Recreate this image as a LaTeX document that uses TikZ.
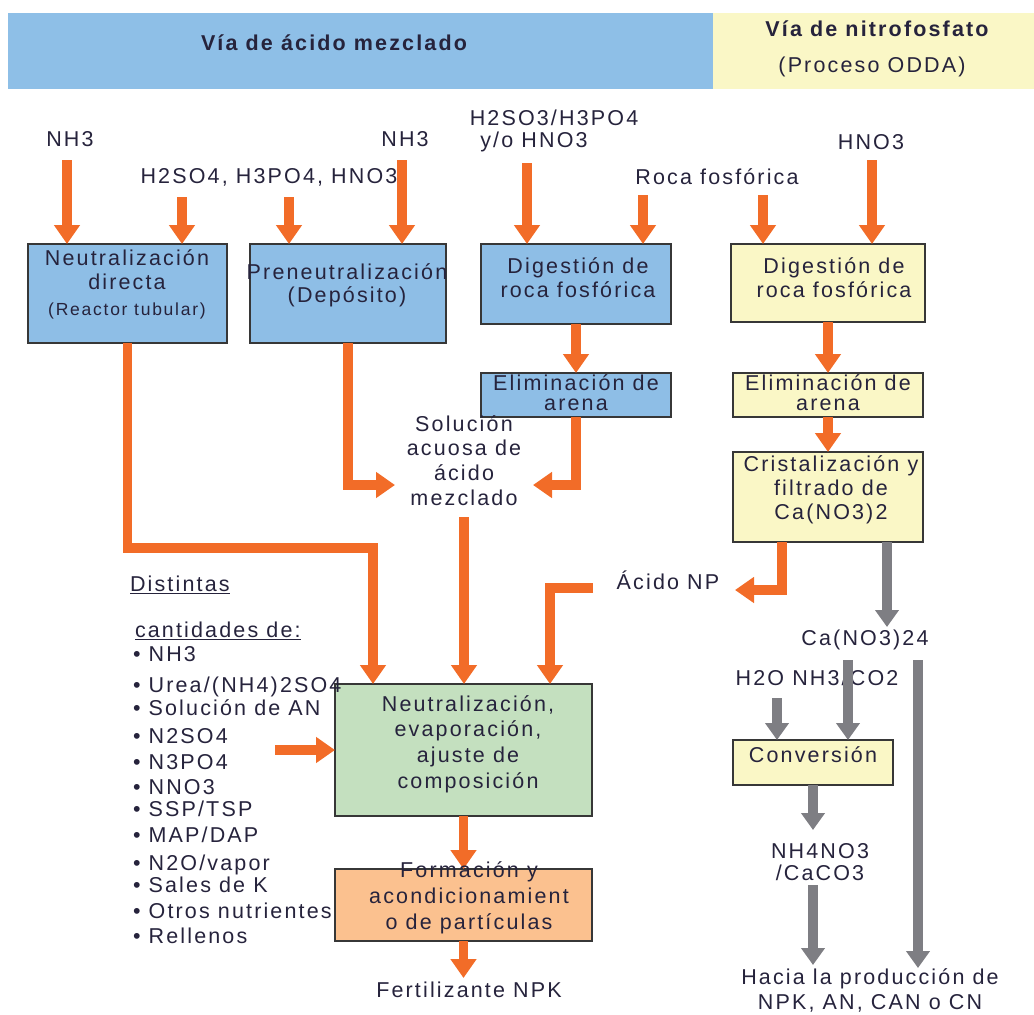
\documentclass[tikz,border=0pt]{standalone}
\usepackage{fontspec}
\setmainfont{Liberation Sans}[LetterSpace=10]
\usetikzlibrary{arrows.meta}

\definecolor{hdrblue}{RGB}{142,191,231}
\definecolor{boxblue}{RGB}{142,190,230}
\definecolor{boxyellow}{RGB}{250,247,198}
\definecolor{boxgreen}{RGB}{196,224,191}
\definecolor{boxorange}{RGB}{251,193,143}
\definecolor{flow}{RGB}{242,108,40}
\definecolor{flowgray}{RGB}{126,126,131}
\definecolor{ink}{RGB}{38,35,60}
\definecolor{edge}{RGB}{55,55,55}

\begin{document}
\begin{tikzpicture}[x=1pt,y=-1pt,
  every node/.style={inner sep=0pt, outer sep=0pt, text=ink},
  box/.style={draw=edge, line width=1.8pt},
  txt/.style={font=\fontsize{21.5}{#1}\selectfont, align=center},
  txt/.default=24,
  one/.style={font=\fontsize{21.5}{25}\selectfont, text height=15.5pt, text depth=4.5pt},
  small/.style={font=\fontsize{17.5}{21}\selectfont, text height=15.5pt, text depth=4.5pt},
  bold/.style={font=\fontsize{21.5}{25}\bfseries\selectfont, text height=15.5pt, text depth=4.5pt},
  oarr/.style={draw=flow, line width=9.5pt, line join=miter,
               -{Triangle[width=25pt,length=19pt]}},
  garr/.style={draw=flowgray, line width=10pt, line join=miter,
               -{Triangle[width=23pt,length=17pt]}}]

\useasboundingbox (0,0) rectangle (1034,1015);

% header bands
\fill[hdrblue] (8,13) rectangle (713,89);
\fill[boxyellow] (713,13) rectangle (1034,89);
\node[bold] (h1) at (334,45) {Vía de ácido mezclado};
\node[bold] (h2) at (877,31) {Vía de nitrofosfato};
\node[one] (h3) at (872,67) {(Proceso ODDA)};

% process boxes
\node[box, fill=boxblue, minimum width=199pt, minimum height=99pt] (b1) at (127.5,293.5) {};
\node[box, fill=boxblue, minimum width=196pt, minimum height=99pt] (b2) at (348,293.5) {};
\node[box, fill=boxblue, minimum width=190pt, minimum height=80pt] (b3) at (576,284) {};
\node[box, fill=boxyellow, minimum width=194pt, minimum height=78pt] (b4) at (828,283) {};
\node[box, fill=boxblue, minimum width=190pt, minimum height=44pt] (b5) at (576,395) {};
\node[box, fill=boxyellow, minimum width=190pt, minimum height=44pt] (b6) at (828,395) {};
\node[box, fill=boxyellow, minimum width=190pt, minimum height=90pt] (b7) at (828,497) {};
\node[box, fill=boxgreen, minimum width=257pt, minimum height=132pt] (b8) at (463.5,750) {};
\node[box, fill=boxorange, minimum width=257pt, minimum height=72pt] (b9) at (463.5,905) {};
\node[box, fill=boxyellow, minimum width=160pt, minimum height=45pt] (b10) at (813,762.5) {};

% free ends of the flows
\coordinate (s1) at (67,160);
\coordinate (s2) at (182,197);
\coordinate (s3) at (289,197);
\coordinate (s4) at (402,160);
\coordinate (s5) at (527,163);
\coordinate (s6) at (643,195);
\coordinate (s7) at (763,195);
\coordinate (s8) at (872,160);
\coordinate (solR) at (533,485);
\coordinate (solL) at (395,485);
\coordinate (k14) at (373,548);
\coordinate (s15) at (464,517);
\coordinate (npR) at (735,590);
\coordinate (s17) at (593,588);
\coordinate (k17) at (550,588);
\coordinate (s18) at (275,750);
\coordinate (fertTop) at (463.5,978);

% orange flows (mixed acid route)
\draw[oarr] (s1) -- (s1 |- b1.north);
\draw[oarr] (s2) -- (s2 |- b1.north);
\draw[oarr] (s3) -- (s3 |- b2.north);
\draw[oarr] (s4) -- (s4 |- b2.north);
\draw[oarr] (s5) -- (s5 |- b3.north);
\draw[oarr] (s6) -- (s6 |- b3.north);
\draw[oarr] (s7) -- (s7 |- b4.north);
\draw[oarr] (s8) -- (s8 |- b4.north);
\draw[oarr] (b3.south) -- (b5.north);
\draw[oarr] (b4.south) -- (b6.north);
\draw[oarr] (b6.south) -- (b7.north);
\draw[oarr] (b5.south) |- (solR);
\draw[oarr] (b2.south) |- (solL);
\draw[oarr] (b1.south) |- (k14) -- (k14 |- b8.north);
\draw[oarr] (s15) -- (s15 |- b8.north);
\draw[oarr] ([xshift=-46pt]b7.south) |- (npR);
\draw[oarr] (s17) -- (k17) -- (k17 |- b8.north);
\draw[oarr] (s18) -- (s18 -| b8.west);
\draw[oarr] (b8.south) -- (b9.north);
\draw[oarr] (b9.south) -- (fertTop);

% inputs
\node[one] (nh3a) at (70,141) {NH3};
\node[one] (acids) at (269,178) {H2SO4, H3PO4, HNO3};
\node[one] (nh3b) at (405,141) {NH3};
\node[one] (acid3a) at (554,120) {H2SO3/H3PO4};
\node[one] (acid3b) at (534,142) {y/o HNO3};
\node[one] (roca) at (717,179) {Roca fosfórica};
\node[one] (hno3) at (871,144) {HNO3};

% box texts
\node[txt] (t1) at (127,270) {Neutralización\\directa};
\node[small] (t1b) at (127,310) {(Reactor tubular)};
\node[txt=23] (t2) at (347,285.5) {Preneutralización\\(Depósito)};
\node[txt] (t3) at (578,278) {Digestión de\\roca fosfórica};
\node[txt] (t4) at (834,278) {Digestión de\\roca fosfórica};
\node[txt=20] (t5) at (576,393) {Eliminación de\\arena};
\node[txt=20] (t6) at (828,393) {Eliminación de\\arena};
\node[txt] (t7) at (831,490) {Cristalización y\\filtrado de\\Ca(NO3)2};
\node[txt=25.7] (t8) at (468,744) {Neutralización,\\evaporación,\\ajuste de\\composición};
\node[txt=26] (t9) at (469,898) {Formación y\\acondicionamient\\o de partículas};
\node[one] (t10) at (813,757) {Conversión};

% intermediate and final products
\node[txt=24.7] (sol) at (464,460.5) {Solución\\acuosa de\\ácido\\mezclado};
\node[one] (acnp) at (668,584) {Ácido NP};
\node[one] (cano) at (865,640) {Ca(NO3)24};
\node[one] (h2o) at (817,680) {H2O NH3/CO2};
\node[txt=22] (nh4) at (820,862) {NH4NO3\\/CaCO3};
\node[txt=25] (hacia) at (870,990.5) {Hacia la producción de\\NPK, AN, CAN o CN};
\node[one] (fert) at (469,992) {Fertilizante NPK};

% list of additives
\node[one, anchor=west] (dist) at (130,586) {\underline{Distintas}};
\node[one, anchor=west] (cant) at (135,632) {\underline{cantidades de:}};
\node[one, anchor=west] (l1) at (133,656) {• NH3};
\node[one, anchor=west] (l2) at (133,687) {• Urea/(NH4)2SO4};
\node[one, anchor=west] (l3) at (133,710) {• Solución de AN};
\node[one, anchor=west] (l4) at (133,738) {• N2SO4};
\node[one, anchor=west] (l5) at (133,764) {• N3PO4};
\node[one, anchor=west] (l6) at (133,789) {• NNO3};
\node[one, anchor=west] (l7) at (133,811) {• SSP/TSP};
\node[one, anchor=west] (l8) at (133,837) {• MAP/DAP};
\node[one, anchor=west] (l9) at (133,865) {• N2O/vapor};
\node[one, anchor=west] (l10) at (133,887) {• Sales de K};
\node[one, anchor=west] (l11) at (133,913) {• Otros nutrientes};
\node[one, anchor=west] (l12) at (133,938) {• Rellenos};

% grey flows (nitrophosphate by-products)
\coordinate (caTop) at (887,627);
\coordinate (s22) at (777,698);
\coordinate (s23) at (848,660);
\coordinate (s24) at (918,660);
\coordinate (e24) at (918,968);
\coordinate (e25) at (813,830);
\coordinate (s26) at (813,885);
\coordinate (e26) at (813,965);
\draw[garr] (caTop |- b7.south) -- (caTop);
\draw[garr] (s22) -- (s22 |- b10.north);
\draw[garr] (s23) -- (s23 |- b10.north);
\draw[garr] (s24) -- (e24);
\draw[garr] (b10.south) -- (e25);
\draw[garr] (s26) -- (e26);
\end{tikzpicture}
\end{document}
